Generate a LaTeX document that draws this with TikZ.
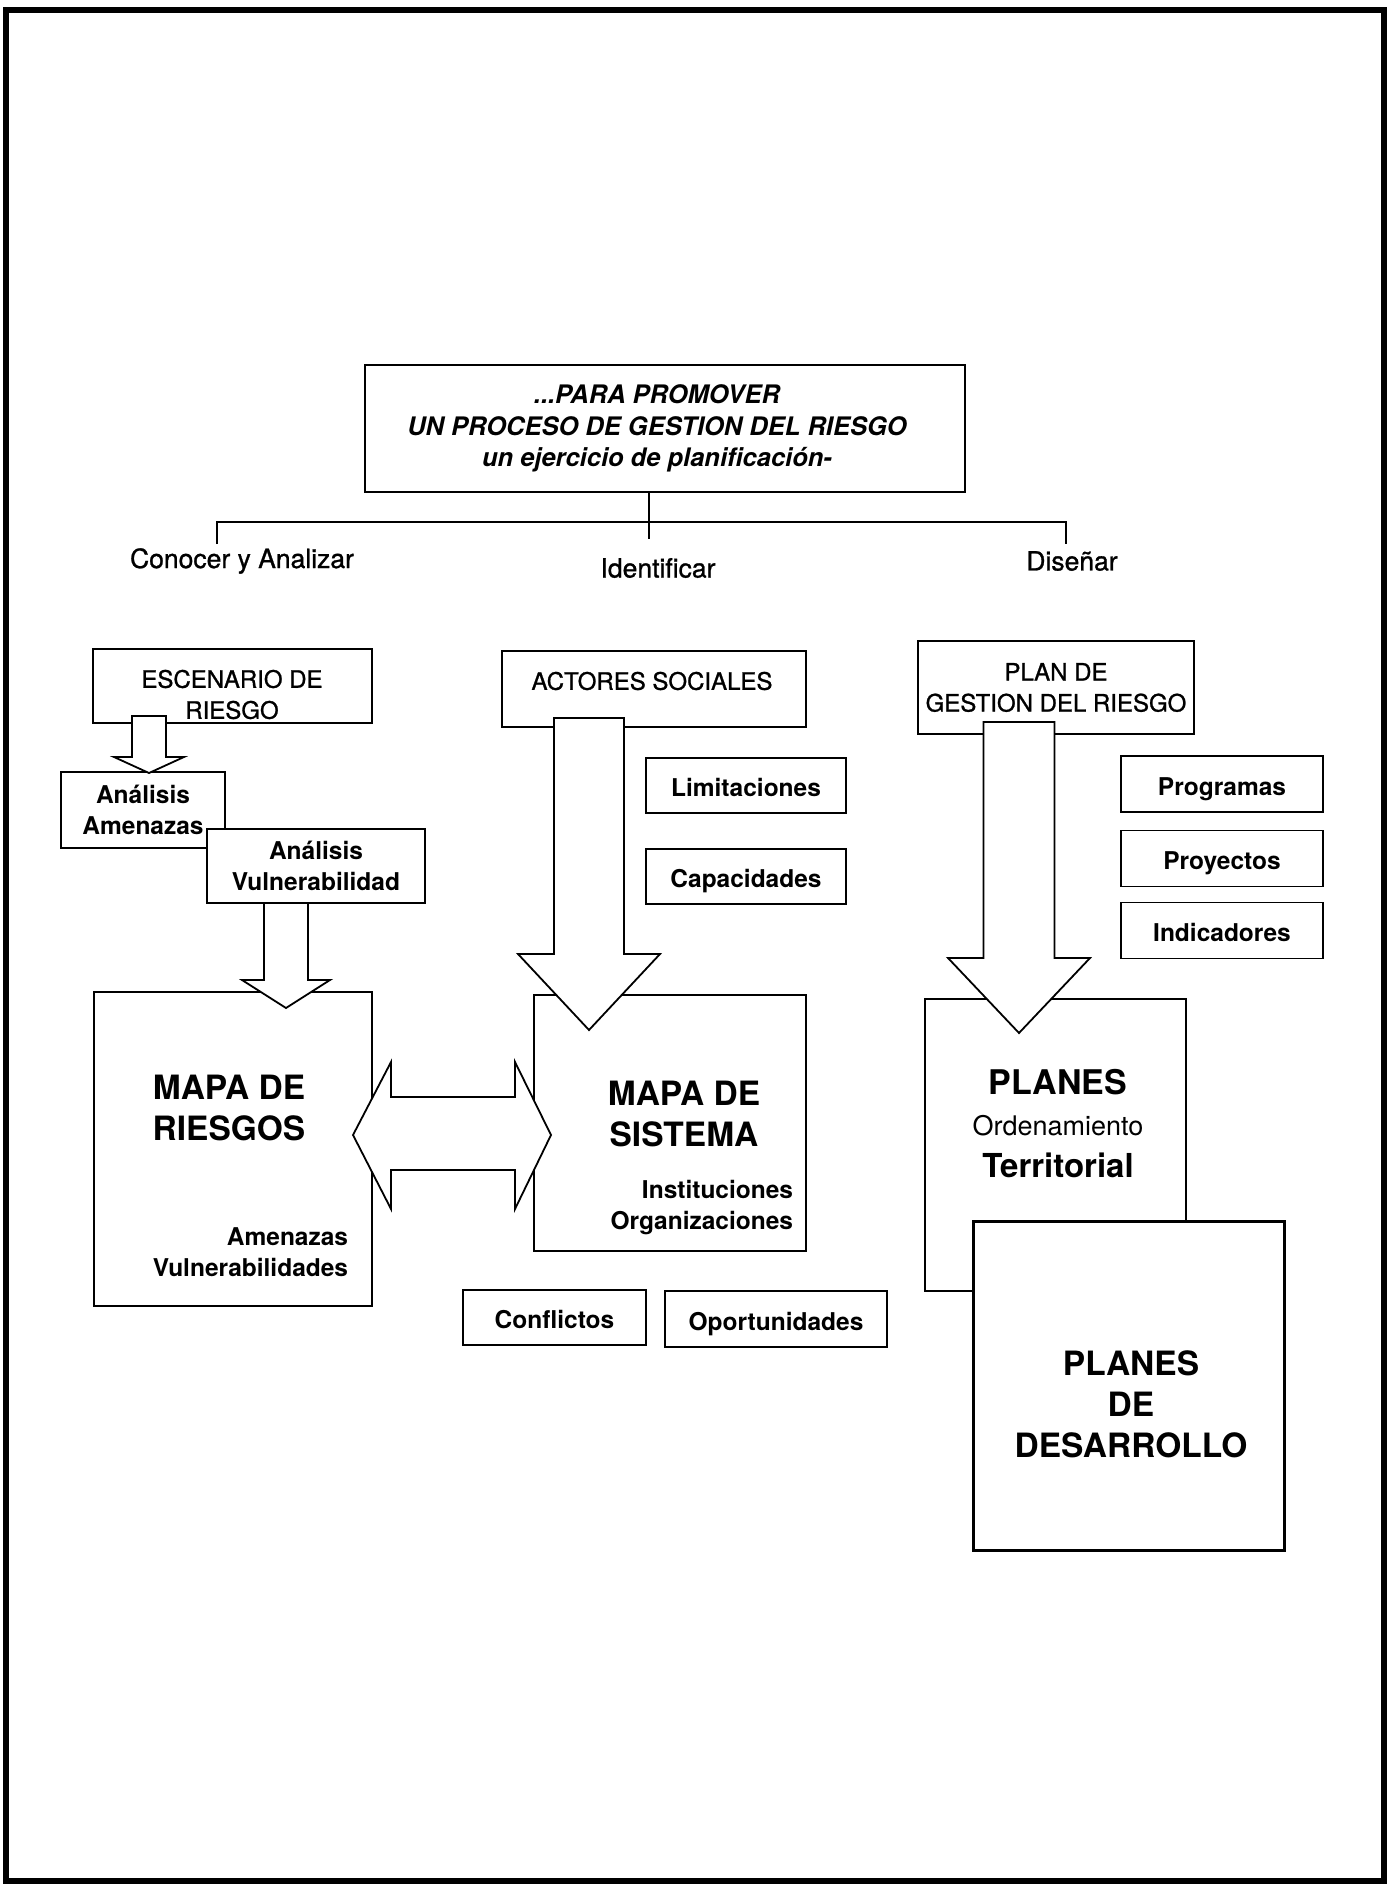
\documentclass[tikz,border=0pt]{standalone}
\usepackage{fontspec}
\setmainfont{TeX Gyre Heros}
\newfontfamily\medfont[FakeBold=1]{TeX Gyre Heros}
\usetikzlibrary{positioning}

% fat block arrow pointing down: x, top, head, tip, shaft half width, head half width
\newcommand{\fatdown}[6]{%
  \draw[fatarrow] (#1-#5,#2) -- (#1-#5,#3) -- (#1-#6,#3) -- (#1,#4)
    -- (#1+#6,#3) -- (#1+#5,#3) -- (#1+#5,#2) -- cycle;}

\begin{document}
\begin{tikzpicture}[x=1pt, y=-1pt, line width=1.8pt, on grid,
  box/.style={draw, fill=white, inner sep=0pt, align=center},
  tag/.style={box, font=\fontsize{24.5}{31}\selectfont\bfseries, text height=22pt, text depth=0pt},
  txt/.style={inner sep=0pt, align=center},
  fatarrow/.style={draw, fill=white, line join=miter},
  headfont/.style={font=\fontsize{25.5}{31.5}\selectfont\bfseries\itshape},
  lblfont/.style={font=\fontsize{26.5}{30}\selectfont\medfont},
  capfont/.style={font=\fontsize{24}{31}\selectfont\medfont},
  smallfont/.style={font=\fontsize{24.5}{31}\selectfont\bfseries},
  bigfont/.style={font=\fontsize{33.5}{41}\selectfont\bfseries}]

   \useasboundingbox (0,0) rectangle (1391,1886);
   \draw[line width=6pt] (6,10) rectangle (1384,1881);

   % title and tree
   \node[box, minimum width=600pt, minimum height=127pt] (meta) at (665,428.5) {};
   \node[txt, headfont] (metatxt) at (657,428.5)
     {...PARA PROMOVER\\UN PROCESO DE GESTION DEL RIESGO\\un ejercicio de planificación-};

   \coordinate (split) at (649,522);
   \coordinate (lt) at (217,544);
   \coordinate (rt) at (1066,544);
   \coordinate (mt) at (649,539);
   \draw (meta.south -| split) -- (mt);
   \draw (lt) -- (lt |- split) -- (rt |- split) -- (rt);

   \node[txt, lblfont] (know) at (242,561) {Conocer y Analizar};
   \node[txt, lblfont] (ident) at (658,568) {Identificar};
   \node[txt, lblfont] (design) at (1072,561) {Diseñar};

   % left column
   \node[box, minimum width=279pt, minimum height=74pt] (scene) at (232.5,686) {};
   \node[txt, capfont] (scenetxt) at (232,694.5) {ESCENARIO DE\\RIESGO};
   \node[box, smallfont, minimum width=164pt, minimum height=76pt] (hazard) at (143,810) {Análisis\\Amenazas};
   \node[box, smallfont, minimum width=218pt, minimum height=74pt] (vulner) at (316,866) {Análisis\\Vulnerabilidad};
   \node[box, minimum width=278pt, minimum height=314pt] (risk) at (233,1149) {};
   \node[txt, bigfont] (risktxt) at (229,1107.5) {MAPA DE\\RIESGOS};
   \node[txt, smallfont, align=right, anchor=east] (risksub) at (349,1252.5) {Amenazas\\Vulnerabilidades};
   \fatdown{149}{716}{757}{773}{17}{35}
   \fatdown{286}{903}{980}{1008}{22}{44}

   % middle column
   \node[box, minimum width=304pt, minimum height=76pt] (actors) at (654,689) {};
   \node[txt, capfont] (actorstxt) at (652,681) {ACTORES SOCIALES};
   \node[tag, minimum width=200pt, minimum height=55pt] (limits) at (746,785.5) {Limitaciones};
   \node[tag, minimum width=200pt, minimum height=55pt] (capac) [below=91pt of limits] {Capacidades};
   \node[box, minimum width=272pt, minimum height=256pt] (system) at (670,1123) {};
   \node[txt, bigfont] (systemtxt) at (684,1114) {MAPA DE\\SISTEMA};
   \node[txt, smallfont, align=right, anchor=east] (systemsub) at (794,1208) {Instituciones\\Organizaciones};
   \node[tag, minimum width=183pt, minimum height=55pt] (conflict) at (554.5,1317.5) {Conflictos};
   \node[tag, minimum width=222pt, minimum height=56pt] (chance) at (776,1319) {Oportunidades};
   \fatdown{589}{718}{954}{1030}{35}{71}

   % two-way arrow between the maps
   \coordinate (dl) at (353,1135);
   \coordinate (dr) at (551,1135);
   \draw[fatarrow] (dl) -- ++(38,-73) -- ++(0,35) -- ++(124,0) -- ++(0,-35) -- (dr)
     -- ++(-36,74) -- ++(0,-39) -- ++(-124,0) -- ++(0,39) -- cycle;

   % right column
   \node[box, capfont, minimum width=276pt, minimum height=93pt] (plan) at (1056,687.5) {PLAN DE\\GESTION DEL RIESGO};
   \node[tag, minimum width=202pt, minimum height=56pt] (progs) at (1222,784) {Programas};
   \node[tag, minimum width=202pt, minimum height=56pt] (projs) [below=74.5pt of progs] {Proyectos};
   \node[tag, minimum width=202pt, minimum height=56pt] (indic) [below=72pt of projs] {Indicadores};
   \node[box, minimum width=261pt, minimum height=292pt] (plans) at (1055.5,1145) {};
   \node[txt, font=\fontsize{34}{40}\selectfont\bfseries] (planstxt) at (1058,1082) {PLANES};
   \node[txt, font=\fontsize{27}{30}\selectfont] (planssub) at (1058,1126) {Ordenamiento};
   \node[txt, font=\fontsize{33}{40}\selectfont\bfseries] (planster) at (1058,1165) {Territorial};
   \fatdown{1019}{722}{958}{1033}{35.5}{71}
   \node[box, line width=3pt, minimum width=311pt, minimum height=329pt] (devel) at (1128.5,1385.5) {};
   \node[txt, bigfont] (develtxt) at (1131,1404) {PLANES\\DE\\DESARROLLO};

\end{tikzpicture}
\end{document}
